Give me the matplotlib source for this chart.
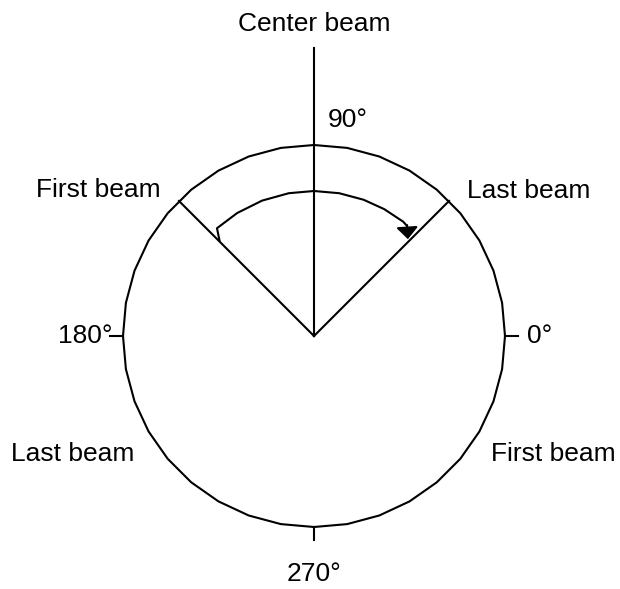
import numpy as np
import matplotlib
matplotlib.use("Agg")
import matplotlib.pyplot as plt

plt.rcParams['font.family'] = ['Liberation Sans', 'DejaVu Sans']

# Diagram values
beam_angles = [135, 90, 45]          # first, center, last beam (degrees)
beam_names = ["First beam", "Center beam", "Last beam"]
mirror_names = ["Last beam", "First beam"]   # at 225 and 315 deg
cardinal_angles = [0, 90, 180, 270]
cardinal_labels = ["0°", "90°", "180°", "270°"]

R = 191.0        # outer circle radius
AR = 145.0       # sweep arrow radius

fig = plt.figure(figsize=(6.2, 5.89), dpi=100)
ax = fig.add_axes([0, 0, 1, 1])
ax.set_xlim(-314, 306)
ax.set_ylim(-253, 336)
ax.axis('off')

lw = 1.5
# outer circle (polygonal)
t = np.deg2rad(np.arange(0, 361, 10))
ax.plot(R * np.cos(t), R * np.sin(t), color='black', lw=lw)

# first / last beam lines
for a in [beam_angles[0], beam_angles[2]]:
    r = np.deg2rad(a)
    ax.plot([0, R * np.cos(r)], [0, R * np.sin(r)], color='black', lw=lw)
# center beam line extends above
ax.plot([0, 0], [0, 288], color='black', lw=lw)

# ticks at 0, 180, 270
tick = 13
ax.plot([R, R + tick], [0, 0], color='black', lw=lw)
ax.plot([-R, -R - tick], [0, 0], color='black', lw=lw)
ax.plot([0, 0], [-R, -R - tick], color='black', lw=lw)

# sweep arrow from first beam to last beam (polygonal arc)
ta = np.deg2rad(np.array([132, 122, 111, 100, 90, 80, 70, 61, 52]))
xs = AR * np.cos(ta)
ys = AR * np.sin(ta)
start = (np.cos(np.deg2rad(beam_angles[0])) * 135, np.sin(np.deg2rad(beam_angles[0])) * 135)
end = (np.cos(np.deg2rad(beam_angles[2])) * 137, np.sin(np.deg2rad(beam_angles[2])) * 137)
xs = np.concatenate([[start[0] + 1], xs, [93]])
ys = np.concatenate([[start[1]], ys, [110]])
ax.plot(xs, ys, color='black', lw=lw)
ax.annotate('', xy=(end[0] - 3, end[1]), xytext=(93, 111),
            arrowprops=dict(arrowstyle='-|>,head_length=0.6,head_width=0.55',
                            color='black', lw=lw,
                            mutation_scale=12, shrinkA=0, shrinkB=0))

fs = 19
ax.text(0.5, 312, beam_names[1], ha='center', va='center', fontsize=fs)
ax.text(-216, 146, beam_names[0], ha='center', va='center', fontsize=fs)
ax.text(215, 145, beam_names[2], ha='center', va='center', fontsize=fs)
ax.text(-241, -118, mirror_names[0], ha='center', va='center', fontsize=fs)
ax.text(239, -118, mirror_names[1], ha='center', va='center', fontsize=fs)

ax.text(34, 216, cardinal_labels[1], ha='center', va='center', fontsize=fs)
ax.text(-229, 0, cardinal_labels[2], ha='center', va='center', fontsize=fs)
ax.text(226, 0, cardinal_labels[0], ha='center', va='center', fontsize=fs)
ax.text(0, -238, cardinal_labels[3], ha='center', va='center', fontsize=fs)

fig.savefig('out.png', dpi=100)
